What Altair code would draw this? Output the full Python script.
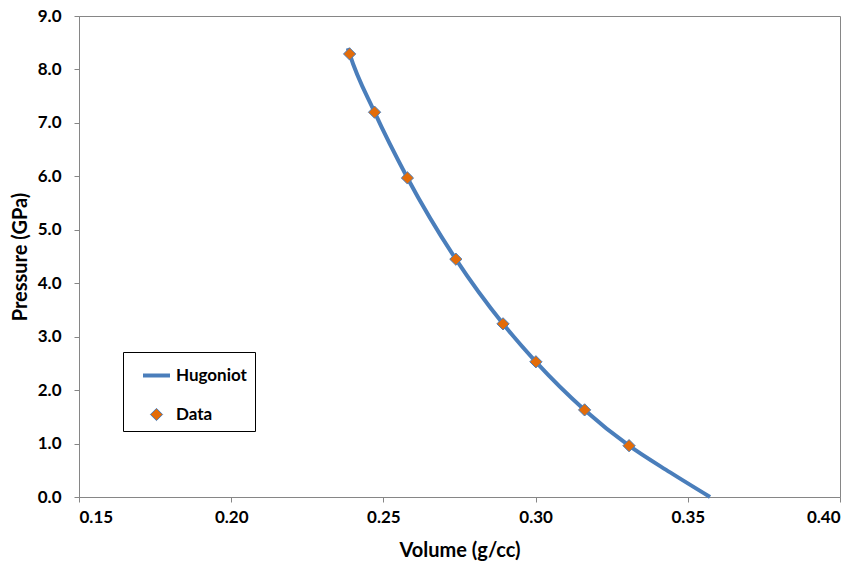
import altair as alt
import pandas as pd

# Data
data_volume = [0.2389, 0.2471, 0.2579, 0.2738, 0.2893, 0.3001, 0.3161, 0.3307]
data_pressure = [8.29, 7.20, 5.97, 4.45, 3.24, 2.53, 1.63, 0.96]

hug_volume = [0.2383, 0.2389, 0.2471, 0.2579, 0.2738, 0.2893, 0.3001, 0.3161, 0.3307, 0.3442, 0.3573]
hug_pressure = [8.40, 8.29, 7.20, 5.97, 4.45, 3.24, 2.53, 1.63, 0.96, 0.46, 0.0]

series_names = ["Hugoniot", "Data"]
x_ticks = [0.15, 0.20, 0.25, 0.30, 0.35, 0.40]
y_ticks = [0, 1, 2, 3, 4, 5, 6, 7, 8, 9]

BLUE = "#4A7EBB"
ORANGE = "#E36C09"
GRAY = "#868686"
FONT = "Lato"

pts = pd.DataFrame({"volume": data_volume, "pressure": data_pressure, "series": "Data"})
hug = pd.DataFrame({"volume": hug_volume, "pressure": hug_pressure})

x_enc = alt.X("volume:Q", scale=alt.Scale(domain=[0.15, 0.40], nice=False, zero=False),
              axis=alt.Axis(values=x_ticks, format=".2f", title="Volume (g/cc)"))
y_enc = alt.Y("pressure:Q", scale=alt.Scale(domain=[0, 9], nice=False),
              axis=alt.Axis(values=y_ticks, format=".1f", title="Pressure (GPa)"))

line = alt.Chart(hug).mark_line(color=BLUE, strokeWidth=4, interpolate="monotone").encode(
    x=x_enc, y=y_enc
)

legend = alt.Legend(
    title=None, orient="none", legendX=44, legendY=336,
    strokeColor="black", fillColor="white", padding=8,
    symbolOffset=10, labelOffset=4, rowPadding=21,
    symbolStrokeColor=BLUE,
    labelFont=FONT, labelFontSize=17, labelFontWeight="bold", labelColor="black",
    cornerRadius=0,
)

points = alt.Chart(pts).mark_point(filled=True, opacity=1, stroke=BLUE).encode(
    x=x_enc, y=y_enc,
    color=alt.Color("series:N", scale=alt.Scale(domain=series_names, range=[BLUE, ORANGE]), legend=legend),
    shape=alt.Shape("series:N", scale=alt.Scale(domain=series_names, range=["stroke", "diamond"]), legend=legend),
    size=alt.Size("series:N", scale=alt.Scale(type="ordinal", domain=series_names, range=[729, 150]), legend=legend),
    strokeWidth=alt.StrokeWidth("series:N", scale=alt.Scale(type="ordinal", domain=series_names, range=[4, 1]), legend=legend),
)

chart = alt.layer(line, points).properties(
    width=761, height=481,
    padding={"left": 79, "top": 16, "right": 21, "bottom": 73},
    autosize=alt.AutoSizeParams(type="none"),
    background="white",
).configure_view(
    stroke=GRAY, strokeWidth=1
).configure_axis(
    grid=False, domainColor=GRAY, tickColor=GRAY, tickSize=5,
    labelFont=FONT, labelFontSize=17, labelFontWeight="bold", labelColor="black",
    titleFont=FONT, titleFontSize=20, titleFontWeight="bold", titleColor="black",
).configure_axisX(
    labelPadding=7, titlePadding=15
).configure_axisY(
    labelPadding=13, titlePadding=7
)

chart.save("out.html", embed_options={"renderer": "svg", "actions": False})
